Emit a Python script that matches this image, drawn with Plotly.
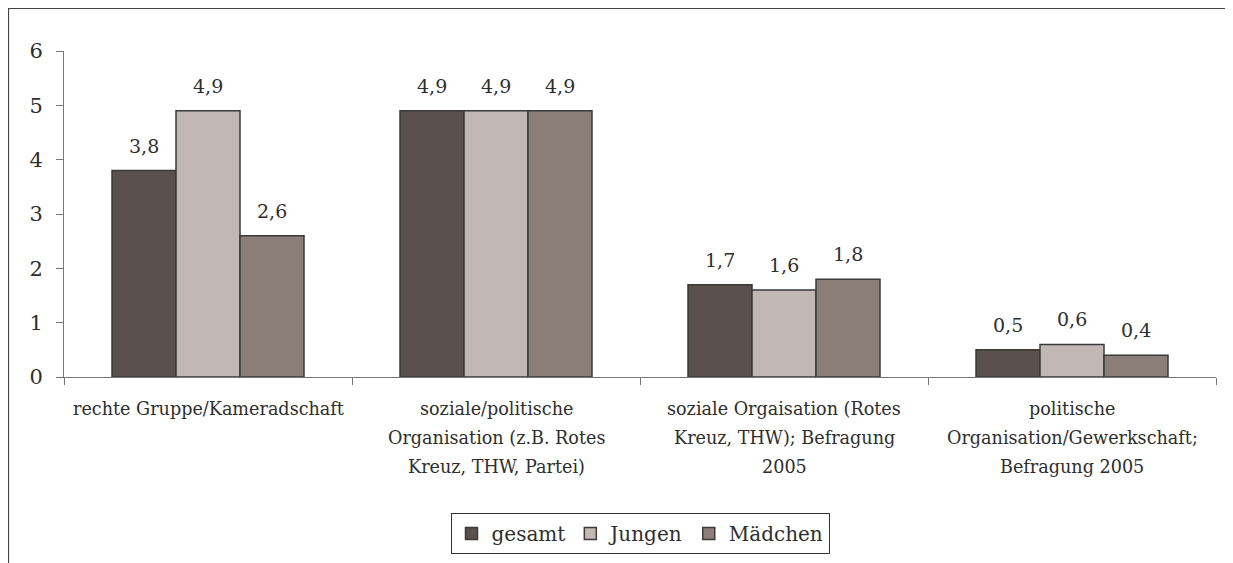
import plotly.graph_objects as go

categories = [
    "rechte Gruppe/Kameradschaft",
    "soziale/politische<br>Organisation (z.B. Rotes<br>Kreuz, THW, Partei)",
    "soziale Orgaisation (Rotes<br>Kreuz, THW); Befragung<br>2005",
    "politische<br>Organisation/Gewerkschaft;<br>Befragung 2005",
]
gesamt = [3.8, 4.9, 1.7, 0.5]
jungen = [4.9, 4.9, 1.6, 0.6]
maedchen = [2.6, 4.9, 1.8, 0.4]

series_names = ["gesamt", "Jungen", "Mädchen"]
series_values = [gesamt, jungen, maedchen]
series_colors = ["#5a504d", "#c1b7b4", "#8c7f7a"]

y_ticks = [0, 1, 2, 3, 4, 5, 6]

FONT = "DejaVu Serif"
TEXT = "#2e2e2e"

fig = go.Figure()

for name, vals, col in zip(series_names, series_values, series_colors):
    fig.add_trace(go.Bar(
        x=list(range(len(categories))),
        y=vals,
        name=name,
        marker=dict(color=col, line=dict(color="#3a3a3a", width=1.5)),
    ))

# value labels, placed a bit above each bar like in excel
bar_w = (1 - 1 / 3) / len(series_names)
annotations = []
for j, vals in enumerate(series_values):
    for i, v in enumerate(vals):
        annotations.append(dict(
            x=i + (j - 1) * bar_w, y=v, xref="x", yref="y",
            text=f"{v:.1f}".replace(".", ","),
            showarrow=False, yanchor="middle", yshift=25,
            font=dict(family=FONT, size=19, color=TEXT),
        ))

# category labels line by line (wider line spacing than plotly ticks)
for i, cat in enumerate(categories):
    for k, line in enumerate(cat.split("<br>")):
        annotations.append(dict(
            x=i, y=0, xref="x", yref="y",
            text=line, showarrow=False, yanchor="middle",
            yshift=-32 - 29 * k,
            font=dict(family=FONT, size=17.6, color=TEXT),
        ))

fig.update_layout(
    width=1225, height=555,
    barmode="group", bargap=1 / 3, bargroupgap=0,
    plot_bgcolor="white", paper_bgcolor="white",
    margin=dict(l=56, r=17, t=43, b=186, autoexpand=False),
    font=dict(family=FONT, color=TEXT),
    showlegend=True,
    legend=dict(
        orientation="h", x=0.5, xanchor="center", y=-0.417, yanchor="top",
        font=dict(family=FONT, size=20, color=TEXT),
        bordercolor="#333333", borderwidth=1, bgcolor="white",
        itemwidth=30, traceorder="normal",
    ),
    annotations=annotations,
    shapes=[dict(
        type="rect", xref="paper", yref="paper",
        x0=-55.5 / 1152, x1=1.1, y0=-0.8, y1=1 + 42.5 / 326,
        line=dict(color="#444444", width=1.2), layer="below",
    )],
)

fig.update_xaxes(
    range=[-0.5, len(categories) - 0.5],
    tickmode="array", tickvals=[-0.5, 0.5, 1.5, 2.5, 3.5], ticktext=[""] * 5,
    ticks="outside", ticklen=7, tickcolor="#777777",
    showline=True, linecolor="#777777", linewidth=1,
    showgrid=False, zeroline=False,
)
fig.update_yaxes(
    range=[0, 6], tickvals=y_ticks,
    ticks="outside", ticklen=7, tickcolor="#777777",
    showline=True, linecolor="#777777", linewidth=1,
    showgrid=False, zeroline=False, ticklabelstandoff=9,
    tickfont=dict(family=FONT, size=21, color=TEXT),
)

fig.write_html("out.html")
